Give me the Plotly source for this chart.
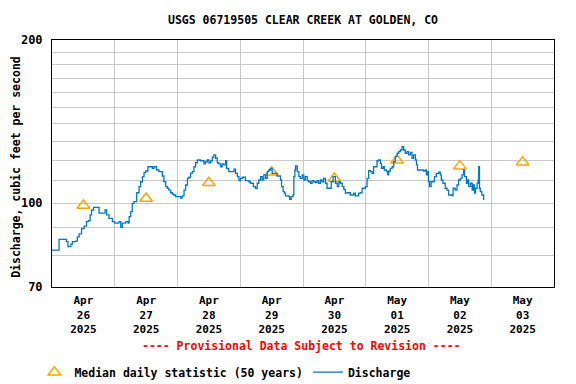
import math
import pandas as pd
import plotly.graph_objects as go

# Discharge readings: hours since 2025-04-26 00:00 and cfs
hours = [0, 2.7, 5.5, 6.1, 7.2, 7.8, 9.1, 9.7, 10.4, 11.3, 12.3, 13.2, 13.9, 14.6, 15.1, 15.9, 17.1,
         18.0, 19.9, 20.3, 20.9, 21.8, 23.1, 24.0, 25.6, 26.3, 26.9, 28.2, 29.1, 29.5, 30.1, 30.7,
         31.4, 32.4, 33.3, 33.9, 34.6, 35.2, 35.8, 36.7, 37.7, 38.4, 39.0, 40.0, 40.9, 42.2, 42.8,
         43.5, 44.1, 44.7, 45.4, 46.0, 46.6, 47.3, 48.5, 49.2, 49.8, 50.5, 51.1, 51.8, 52.4, 53.0,
         53.7, 54.3, 54.9, 55.6, 56.8, 58.1, 58.7, 59.4, 60.0, 60.7, 61.3, 61.9, 62.6, 63.2, 63.8,
         64.5, 65.1, 65.7, 66.4, 66.8, 67.6, 68.9, 69.6, 70.2, 70.9, 71.5, 72.1, 72.8, 74.0, 75.3,
         75.9, 77.0, 77.8, 78.5, 79.1, 79.8, 80.4, 81.0, 81.7, 82.3, 82.9, 83.6, 84.2, 86.1, 87.4,
         87.8, 88.4, 88.9, 89.3, 90.6, 90.9, 91.5, 92.2, 92.5, 92.9, 93.2, 93.8, 94.4, 95.0, 95.7,
         96.3, 96.9, 97.6, 98.2, 98.9, 99.5, 100.1, 100.8, 101.4, 102.0, 102.7, 103.3, 103.9, 104.6,
         105.2, 106.2, 106.8, 107.5, 108.4, 109.1, 109.7, 110.3, 111.0, 111.6, 112.2, 112.9, 114.1,
         115.4, 116.0, 117.3, 118.0, 118.6, 119.9, 120.5, 121.1, 121.8, 122.4, 123.0, 124.3, 124.9,
         125.6, 126.0, 126.6, 127.1, 127.9, 128.4, 128.8, 129.4, 130.1, 130.7, 131.3, 132.0, 132.6,
         133.2, 133.9, 134.5, 135.1, 135.8, 136.4, 137.1, 137.7, 138.3, 139.0, 139.4, 139.8, 141.5,
         142.1, 142.8, 143.2, 143.7, 144.0, 144.4, 145.0, 146.0, 146.3, 147.0, 147.9, 148.5, 148.9,
         149.5, 150.4, 151.1, 151.7, 153.0, 153.4, 154.2, 154.9, 155.5, 156.2, 156.8, 157.4, 157.8,
         158.5, 159.0, 159.4, 160.1, 160.7, 161.1, 161.6, 162.0, 162.6, 163.0, 163.2, 163.5, 163.8,
         164.4, 165.1]
discharge = [81.9, 85.7, 84.9, 83.1, 84.0, 84.9, 85.1, 86.6, 87.7, 89.7, 90.7, 92.4, 92.8, 95.1, 97.1, 98.2, 98.2,
             95.8, 95.8, 97.1, 95.1, 93.7, 92.4, 91.8, 92.4, 90.2, 91.8, 92.4, 91.8, 94.4, 96.4, 99.9,
             100.6, 104.5, 107.2, 109.5, 111.9, 113.8, 114.6, 116.7, 116.7, 115.9, 116.7, 115.1, 114.3, 112.2, 109.5,
             107.2, 106.5, 105.7, 104.5, 103.9, 103.5, 102.8, 102.8, 102.1, 103.1, 105.7, 108.0, 111.1, 111.6, 113.6,
             114.3, 116.7, 118.7, 120.1, 119.7, 118.1, 119.2, 120.1, 118.7, 119.7, 121.5, 122.7, 121.0, 118.7, 118.1,
             116.7, 118.1, 117.6, 119.7, 115.9, 114.3, 114.3, 115.5, 113.5, 111.9, 110.0, 111.1, 111.6, 110.0, 109.5,
             108.8, 107.2, 106.5, 108.8, 110.3, 111.9, 110.3, 112.7, 111.1, 114.3, 115.1, 115.9, 113.5, 112.2, 110.3,
             107.2, 105.0, 104.3, 103.1, 102.8, 101.6, 102.8, 103.5, 111.9, 115.1, 117.1, 114.3, 111.9, 111.1, 112.7,
             110.3, 111.9, 110.0, 109.5, 108.8, 110.0, 109.5, 109.1, 110.0, 108.8, 110.3, 109.5, 111.1, 108.8,
             106.5, 106.5, 109.5, 111.9, 108.8, 107.2, 109.5, 108.8, 107.2, 106.0, 104.3, 104.5, 103.5,
             104.3, 103.1, 104.3, 104.5, 106.5, 107.2, 111.1, 114.8, 114.3, 113.5, 116.7, 119.7, 120.1,
             118.4, 115.9, 116.7, 115.1, 114.3, 112.7, 114.6, 115.9, 116.7, 119.2, 121.8, 123.6, 124.4,
             125.3, 127.1, 125.3, 123.6, 124.4, 122.7, 124.0, 121.0, 122.7, 120.1, 117.6, 115.1, 115.1,
             114.6, 115.1, 112.7, 114.3, 109.5, 107.2, 109.5, 109.8, 111.9, 113.5, 114.0, 112.7, 110.3,
             108.8, 106.5, 105.7, 103.5, 103.2, 106.5, 105.7, 108.0, 110.3, 111.1, 112.7, 115.1, 111.9,
             108.8, 110.3, 107.2, 108.8, 105.7, 108.0, 104.3, 106.5, 108.8, 110.3, 116.7, 106.5, 105.0,
             103.5, 101.3]

median_days = ["2025-04-26", "2025-04-27", "2025-04-28", "2025-04-29",
               "2025-04-30", "2025-05-01", "2025-05-02", "2025-05-03"]
median_values = [99, 102, 109, 114, 111, 120, 117, 119]
tick_labels = ["Apr<br>26<br>2025", "Apr<br>27<br>2025", "Apr<br>28<br>2025", "Apr<br>29<br>2025",
               "Apr<br>30<br>2025", "May<br>01<br>2025", "May<br>02<br>2025", "May<br>03<br>2025"]
y_grid = [70, 80, 90, 100, 110, 120, 130, 140, 150, 160, 170, 180, 190, 200]
y_labels = {70: "70", 100: "100", 200: "200"}

start = pd.Timestamp("2025-04-26 00:00")
times = [start + pd.Timedelta(hours=h) for h in hours]
noon = [pd.Timestamp(d) + pd.Timedelta(hours=12) for d in median_days]

FONT = "DejaVu Sans Mono"
# the page body adds an 8px offset; margins compensate for it
fig = go.Figure()
fig.add_trace(go.Scatter(
    x=noon, y=median_values, mode="markers", name="Median daily statistic (50 years)",
    marker=dict(symbol="triangle-up-open", size=11, color="#FFA500", line=dict(width=1.5, color="#FFA500"))))
fig.add_trace(go.Scatter(
    x=times, y=discharge, mode="lines", name="Discharge", line_shape="hv",
    line=dict(color="#0077CC", width=1.3)))

fig.update_layout(
    width=576, height=384,
    margin=dict(l=44, r=30, t=32, b=105, autoexpand=False),
    paper_bgcolor="white", plot_bgcolor="white",
    font=dict(family=FONT, size=11, color="black", weight="bold"),
    title=dict(text="USGS 06719505 CLEAR CREEK AT GOLDEN, CO", x=0.5, xref="paper", xanchor="center",
               y=1 - 12 / 384, yanchor="middle", font=dict(family=FONT, size=11.5, weight="bold")),
    showlegend=True,
    legend=dict(orientation="h", x=-0.035, xanchor="left", y=-0.345, yanchor="middle",
                font=dict(family=FONT, size=11.5, weight="bold"), bgcolor="rgba(0,0,0,0)",
                itemwidth=30, tracegroupgap=0),
    annotations=[
        dict(text="---- Provisional Data Subject to Revision ----", xref="paper", yref="paper",
             x=0.497, y=-0.239, xanchor="center", yanchor="middle", showarrow=False,
             font=dict(family=FONT, size=11.5, color="red", weight="bold")),
        dict(text="Discharge, cubic feet per second", xref="paper", yref="paper",
             x=-0.071, y=0.488, xanchor="center", yanchor="middle", textangle=-90, showarrow=False,
             font=dict(family=FONT, size=11.5, color="black", weight="bold")),
    ],
)
fig.update_xaxes(
    range=[start, start + pd.Timedelta(days=8)],
    tickvals=noon, ticktext=tick_labels, ticks="", showgrid=False, automargin=False,
    ticklabelstandoff=3,
    tickfont=dict(family=FONT, size=11, weight="bold"),
    minor=dict(showgrid=True, tickvals=[start + pd.Timedelta(days=i) for i in range(1, 8)],
               gridcolor="#C8C8C8", gridwidth=1, ticks=""),
    showline=True, linecolor="black", linewidth=1, mirror=True, zeroline=False,
)
fig.update_yaxes(
    type="log", range=[math.log10(70), math.log10(200)], automargin=False,
    tickvals=y_grid, ticktext=[y_labels.get(v, "") for v in y_grid], ticks="",
    ticklabelstandoff=6,
    showgrid=True, gridcolor="#C8C8C8", gridwidth=1,
    tickfont=dict(family=FONT, size=12, weight="bold"),
    showline=True, linecolor="black", linewidth=1, mirror=True, zeroline=False,
)

fig.write_html("out.html")
